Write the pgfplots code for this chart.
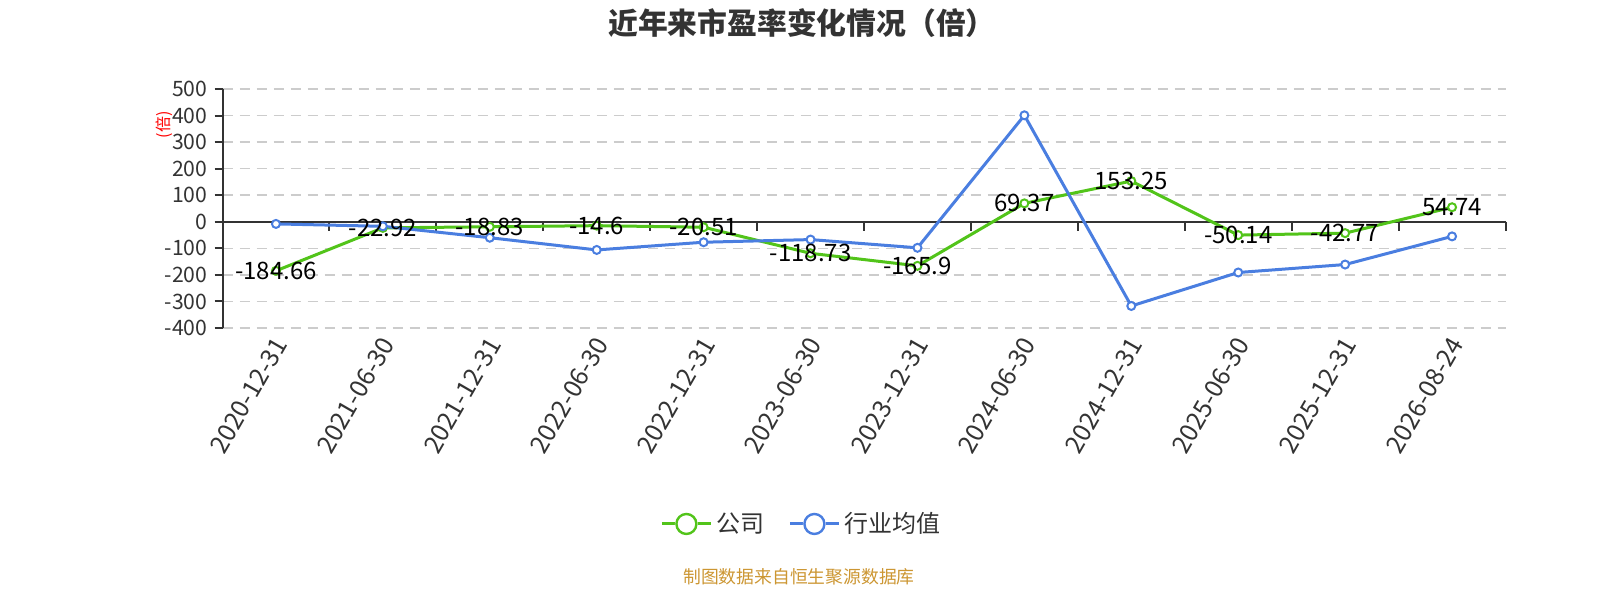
\documentclass[border=0pt]{standalone}
\usepackage{pgfplots}
\usepackage{pgfplotstable}
\pgfplotsset{compat=1.18}
\usepackage{fontspec}
\setmainfont{Noto Sans CJK SC}
\definecolor{cgreen}{RGB}{82,196,26}
\definecolor{cblue}{RGB}{74,126,224}
\definecolor{ctext}{RGB}{51,51,51}
\definecolor{cgrid}{RGB}{204,204,204}
\definecolor{cfoot}{RGB}{204,150,50}

\pgfplotstableread{
x y label
0 -184.66 -184.66
1 -22.92 -22.92
2 -18.83 -18.83
3 -14.6 -14.6
4 -20.51 -20.51
5 -118.73 -118.73
6 -165.9 -165.9
7 69.37 69.37
8 153.25 153.25
9 -50.14 -50.14
10 -42.77 -42.77
11 54.74 54.74
}\company

\pgfplotstableread{
x y
0 -8
1 -17
2 -60
3 -106
4 -77
5 -67
6 -98
7 401
8 -317
9 -191
10 -161
11 -55
}\industry

\begin{document}
\begin{tikzpicture}
\useasboundingbox (0,0) rectangle (800pt,300pt);
\node[font=\fontsize{14.9}{17}\selectfont\bfseries, text=ctext] at (401pt,288.5pt) {近年来市盈率变化情况（倍）};
\node[font=\fontsize{8}{9}\selectfont, text=red, rotate=90] at (82pt,237.5pt) {(倍)};
\node[font=\fontsize{8.9}{10}\selectfont, text=cfoot] at (399.5pt,11.5pt) {制图数据来自恒生聚源数据库};
\begin{axis}[
  scale only axis,
  width=641.5pt, height=119.5pt,
  at={(111.25pt,136pt)}, anchor=south west,
  xmin=-0.5, xmax=11.5, ymin=-400, ymax=500,
  clip=false,
  axis x line*=bottom, axis y line*=left,
  x axis line style={draw=none},
  y axis line style={ctext, line width=1pt, -},
  xtick={0,...,11},
  xticklabels={2020-12-31,2021-06-30,2021-12-31,2022-06-30,2022-12-31,2023-06-30,2023-12-31,2024-06-30,2024-12-31,2025-06-30,2025-12-31,2026-08-24},
  x tick style={draw=none},
  xticklabel style={rotate=60, anchor=east, text=ctext, font=\fontsize{12.5}{14}\selectfont, yshift=-3pt, xshift=3pt},
  ytick={-400,-300,...,500},
  tick align=outside,
  major tick length=4pt,
  y tick style={ctext, line width=1pt},
  yticklabel style={text=ctext, font=\fontsize{10.6}{12}\selectfont},
  /pgf/number format/assume math mode=true,
  ymajorgrids,
  y grid style={cgrid, line width=0.75pt, dash pattern=on 5pt off 3.5pt},
  legend style={at={(0.452,-0.82)}, anchor=center, draw=none, fill=none,
    font=\fontsize{12}{14}\selectfont, text=ctext,
    /tikz/every even column/.append style={column sep=10pt}},
  legend columns=2,
  legend image code/.code={
    \draw[#1, mark=none] (0pt,0pt) -- (24.5pt,0pt);
    \fill[white] (12.25pt,0pt) circle (5pt);
    \draw[#1, mark=none, line width=1.2pt] (12.25pt,0pt) circle (5pt);
  },
]
\addlegendimage{cgreen, line width=1.5pt}
\addlegendentry{公司}
\addlegendimage{cblue, line width=1.5pt}
\addlegendentry{行业均值}

\draw[ctext, line width=1pt] (axis cs:-0.5,0) -- (axis cs:11.5,0);
\pgfplotsinvokeforeach{0.5,1.5,2.5,3.5,4.5,5.5,6.5,7.5,8.5,9.5,10.5,11.5}{
  \draw[ctext, line width=1pt] (axis cs:#1,0) -- ++(0pt,-4.5pt);
}

\addplot[forget plot, cgreen, line width=1.5pt, mark=*, mark size=2pt,
  mark options={fill=white, draw=cgreen, line width=1pt}] table[x=x,y=y]{\company};
\addplot[forget plot, cblue, line width=1.5pt, mark=*, mark size=2pt,
  mark options={fill=white, draw=cblue, line width=1pt}] table[x=x,y=y]{\industry};
\addplot[forget plot, draw=none, mark=none, nodes near coords,
  point meta=explicit symbolic,
  every node near coord/.append style={anchor=center, text=black, font=\fontsize{12}{14}\selectfont, inner sep=0pt}]
  table[x=x,y=y,meta=label]{\company};
\end{axis}
\end{tikzpicture}
\end{document}
